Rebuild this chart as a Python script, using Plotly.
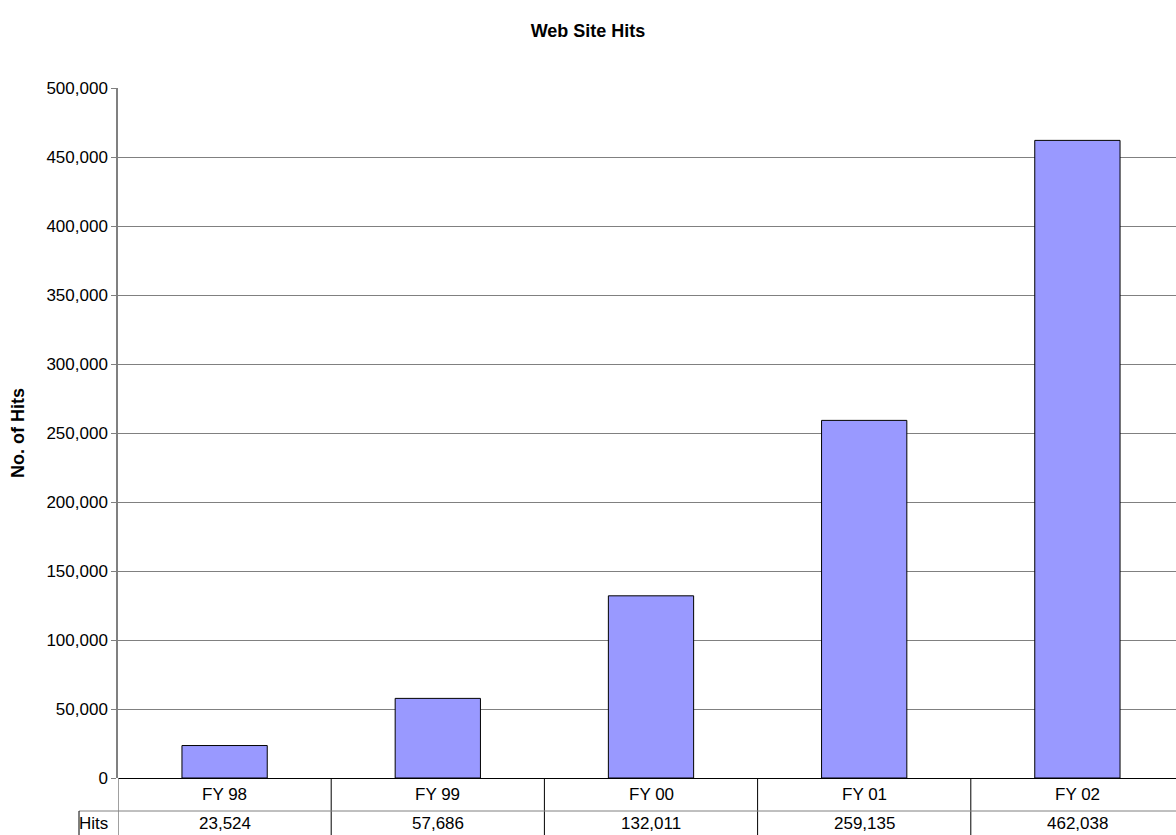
import plotly.graph_objects as go

# Annual web site hits by fiscal year
categories = ["FY 98", "FY 99", "FY 00", "FY 01", "FY 02"]
hits = [23524, 57686, 132011, 259135, 462038]
series_name = "Hits"
y_ticks = [0, 50000, 100000, 150000, 200000, 250000, 300000, 350000, 400000, 450000, 500000]

W, H = 1176, 835
ML, MT, MB = 118, 88, 57
plot_h = H - MT - MB
n = len(categories)
slot = 213.2  # pixel width per category slot
x_right = -0.5 + (W - ML) / slot

font = "Liberation Sans, Arial, sans-serif"
line_col = "#808080"
txt = 17

fig = go.Figure()
fig.add_trace(go.Bar(
    x=list(range(n)), y=hits, width=0.4, name=series_name,
    marker=dict(color="#9999FF", line=dict(color="black", width=1)),
    hoverinfo="y",
))

# Data table under the plot: category row and value row
row_h = 33 / plot_h
value_y = -45 / plot_h
shapes = []
for i in range(n):
    shapes.append(dict(type="line", xref="x", yref="paper",
                       x0=i + 0.5, x1=i + 0.5, y0=0, y1=-3 * row_h,
                       line=dict(color="black", width=1)))
shapes.append(dict(type="line", xref="x", yref="paper",
                   x0=-0.5, x1=-0.5, y0=0, y1=-3 * row_h,
                   line=dict(color=line_col, width=1.5)))
hits_left = (79 - ML) / (W - ML)
shapes.append(dict(type="line", xref="paper", yref="paper",
                   x0=hits_left, x1=1.2, y0=-row_h, y1=-row_h,
                   line=dict(color=line_col, width=1)))
shapes.append(dict(type="line", xref="paper", yref="paper",
                   x0=hits_left, x1=hits_left, y0=-row_h, y1=-3 * row_h,
                   line=dict(color="black", width=1)))

annotations = []
for i, (c, v) in enumerate(zip(categories, hits)):
    annotations.append(dict(x=i, y=-row_h / 2, xref="x", yref="paper", text=c,
                            showarrow=False, font=dict(size=txt, color="black", family=font),
                            xanchor="center", yanchor="middle"))
    annotations.append(dict(x=i, y=value_y, xref="x", yref="paper", text=f"{v:,}",
                            showarrow=False, font=dict(size=txt, color="black", family=font),
                            xanchor="center", yanchor="middle"))
annotations.append(dict(x=hits_left, y=value_y, xref="paper", yref="paper",
                        text=series_name, showarrow=False, xanchor="left", yanchor="middle",
                        xshift=-2, font=dict(size=txt, color="black", family=font)))

fig.update_layout(
    width=W, height=H,
    margin=dict(l=ML, r=0, t=MT, b=MB),
    paper_bgcolor="white", plot_bgcolor="white",
    showlegend=False,
    title=dict(text="<b>Web Site Hits</b>", x=0.5, xref="container", xanchor="center",
               y=1 - 31 / H, yanchor="middle",
               font=dict(size=18, color="black", family=font)),
    xaxis=dict(range=[-0.5, x_right], showticklabels=False, showgrid=False,
               zeroline=False, showline=False, ticks=""),
    yaxis=dict(range=[0, 500000], tickvals=y_ticks, tickformat=",d",
               showgrid=True, gridcolor=line_col, gridwidth=1,
               showline=True, linecolor=line_col, linewidth=1.5,
               zeroline=True, zerolinecolor="black", zerolinewidth=1,
               ticks="outside", ticklen=5, tickcolor=line_col,
               tickfont=dict(size=txt, color="black", family=font),
               title=dict(text="<b>No. of Hits</b>", standoff=17,
                          font=dict(size=18, color="black", family=font))),
    shapes=shapes, annotations=annotations,
    bargap=0.6,
)

fig.write_html("out.html")
